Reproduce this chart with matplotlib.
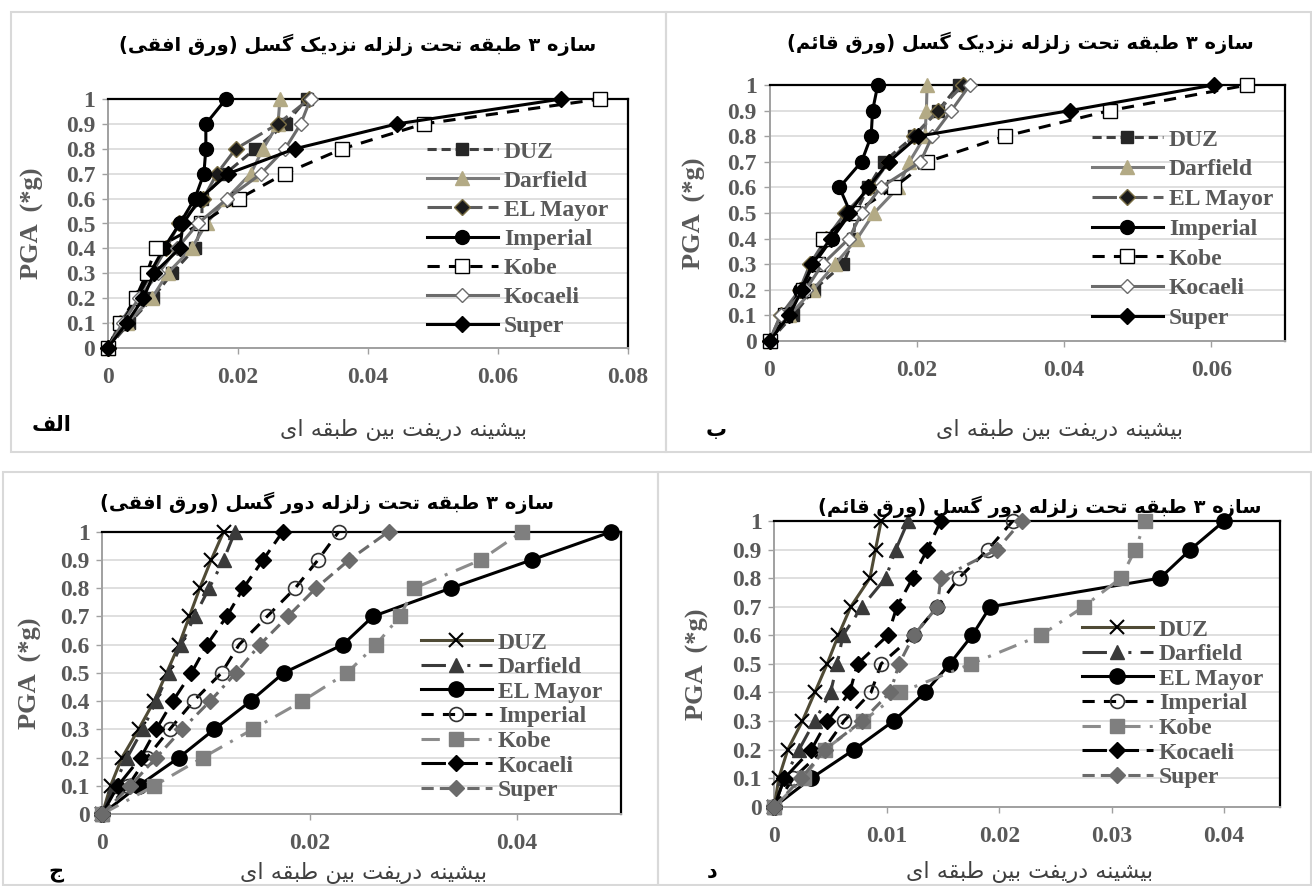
import matplotlib
matplotlib.use('Agg')
import matplotlib.pyplot as plt
from matplotlib.patches import Rectangle
from matplotlib.ticker import FuncFormatter

W, H = 1312, 886

pga = [0, 0.1, 0.2, 0.3, 0.4, 0.5, 0.6, 0.7, 0.8, 0.9, 1.0]
records = ['DUZ', 'Darfield', 'EL Mayor', 'Imperial', 'Kobe', 'Kocaeli', 'Super']

# max inter-storey drift, one row per record (same order as `records`)
near_horiz = [
    [0, 0.0033, 0.0069, 0.0099, 0.0134, 0.0145, 0.0145, 0.0181, 0.0227, 0.0274, 0.0306],
    [0, 0.0029, 0.0068, 0.0092, 0.0129, 0.0152, 0.0183, 0.0220, 0.0239, 0.0262, 0.0265],
    [0, 0.0019, 0.0045, 0.0068, 0.0090, 0.0110, 0.0147, 0.0168, 0.0197, 0.0262, 0.0310],
    [0, 0.0022, 0.0045, 0.0065, 0.0086, 0.0111, 0.0134, 0.0148, 0.0151, 0.0151, 0.0182],
    [0, 0.0019, 0.0043, 0.0060, 0.0074, 0.0144, 0.0202, 0.0272, 0.0361, 0.0486, 0.0758],
    [0, 0.0023, 0.0048, 0.0078, 0.0107, 0.0139, 0.0184, 0.0236, 0.0273, 0.0297, 0.0312],
    [0, 0.0029, 0.0055, 0.0071, 0.0111, 0.0116, 0.0142, 0.0185, 0.0288, 0.0445, 0.0698],
]
near_vert = [
    [0, 0.0032, 0.0060, 0.0100, 0.0114, 0.0117, 0.0134, 0.0155, 0.0196, 0.0229, 0.0257],
    [0, 0.0027, 0.0059, 0.0089, 0.0119, 0.0142, 0.0175, 0.0190, 0.0211, 0.0213, 0.0214],
    [0, 0.0015, 0.0041, 0.0055, 0.0077, 0.0103, 0.0137, 0.0162, 0.0196, 0.0229, 0.0263],
    [0, 0.0023, 0.0042, 0.0060, 0.0085, 0.0110, 0.0095, 0.0125, 0.0138, 0.0140, 0.0147],
    [0, 0.0021, 0.0046, 0.0066, 0.0072, 0.0114, 0.0169, 0.0214, 0.0320, 0.0462, 0.0649],
    [0, 0.0015, 0.0049, 0.0072, 0.0108, 0.0125, 0.0151, 0.0205, 0.0221, 0.0247, 0.0272],
    [0, 0.0027, 0.0044, 0.0058, 0.0083, 0.0108, 0.0134, 0.0162, 0.0202, 0.0408, 0.0603],
]
far_horiz = [
    [0, 0.0008, 0.0019, 0.0035, 0.0050, 0.0062, 0.0074, 0.0084, 0.0094, 0.0105, 0.0117],
    [0, 0.0011, 0.0024, 0.0039, 0.0052, 0.0064, 0.0076, 0.0089, 0.0103, 0.0117, 0.0128],
    [0, 0.0035, 0.0074, 0.0108, 0.0143, 0.0175, 0.0232, 0.0261, 0.0336, 0.0414, 0.0491],
    [0, 0.0025, 0.0043, 0.0065, 0.0088, 0.0115, 0.0132, 0.0159, 0.0186, 0.0208, 0.0228],
    [0, 0.0050, 0.0097, 0.0145, 0.0193, 0.0236, 0.0264, 0.0287, 0.0301, 0.0365, 0.0405],
    [0, 0.0015, 0.0037, 0.0052, 0.0068, 0.0086, 0.0101, 0.0120, 0.0136, 0.0155, 0.0174],
    [0, 0.0027, 0.0052, 0.0077, 0.0104, 0.0129, 0.0152, 0.0179, 0.0206, 0.0238, 0.0276],
]
far_vert = [
    [0, 0.0004, 0.0012, 0.0025, 0.0036, 0.0047, 0.0057, 0.0068, 0.0085, 0.0090, 0.0095],
    [0, 0.0009, 0.0022, 0.0036, 0.0050, 0.0056, 0.0061, 0.0078, 0.0099, 0.0108, 0.0119],
    [0, 0.0033, 0.0071, 0.0106, 0.0134, 0.0156, 0.0176, 0.0192, 0.0343, 0.0370, 0.0400],
    [0, 0.0017, 0.0044, 0.0062, 0.0086, 0.0095, 0.0124, 0.0145, 0.0164, 0.0190, 0.0212],
    [0, 0.0026, 0.0045, 0.0079, 0.0112, 0.0175, 0.0237, 0.0275, 0.0308, 0.0321, 0.0330],
    [0, 0.0009, 0.0033, 0.0047, 0.0067, 0.0074, 0.0101, 0.0109, 0.0123, 0.0136, 0.0148],
    [0, 0.0024, 0.0045, 0.0078, 0.0103, 0.0111, 0.0124, 0.0145, 0.0148, 0.0198, 0.0220],
]

title_a = 'سازه ۳ طبقه تحت زلزله نزدیک گسل (ورق افقی)'
title_b = 'سازه ۳ طبقه تحت زلزله نزدیک گسل (ورق قائم)'
title_c = 'سازه ۳ طبقه تحت زلزله دور گسل (ورق افقی)'
title_d = 'سازه ۳ طبقه تحت زلزله دور گسل (ورق قائم)'
xlabel_fa = 'بیشینه دریفت بین طبقه ای'
ylabel_txt = 'PGA  (*g)'
panel_tags = ['الف', 'ب', 'ج', 'د']

# --- tiny arabic shaper: matplotlib 3.10 has no RTL / joining support
FORMS = {
    'ا': ('\uFE8D', '\uFE8E', None, None),
    'ب': ('\uFE8F', '\uFE90', '\uFE91', '\uFE92'),
    'ت': ('\uFE95', '\uFE96', '\uFE97', '\uFE98'),
    'ج': ('\uFE9D', '\uFE9E', '\uFE9F', '\uFEA0'),
    'ح': ('\uFEA1', '\uFEA2', '\uFEA3', '\uFEA4'),
    'د': ('\uFEA9', '\uFEAA', None, None),
    'ر': ('\uFEAD', '\uFEAE', None, None),
    'ز': ('\uFEAF', '\uFEB0', None, None),
    'س': ('\uFEB1', '\uFEB2', '\uFEB3', '\uFEB4'),
    'ش': ('\uFEB5', '\uFEB6', '\uFEB7', '\uFEB8'),
    'ط': ('\uFEC1', '\uFEC2', '\uFEC3', '\uFEC4'),
    'ف': ('\uFED1', '\uFED2', '\uFED3', '\uFED4'),
    'ق': ('\uFED5', '\uFED6', '\uFED7', '\uFED8'),
    'ل': ('\uFEDD', '\uFEDE', '\uFEDF', '\uFEE0'),
    'م': ('\uFEE1', '\uFEE2', '\uFEE3', '\uFEE4'),
    'ن': ('\uFEE5', '\uFEE6', '\uFEE7', '\uFEE8'),
    'ه': ('\uFEE9', '\uFEEA', '\uFEEB', '\uFEEC'),
    'و': ('\uFEED', '\uFEEE', None, None),
    'ئ': ('\uFE89', '\uFE8A', '\uFE8B', '\uFE8C'),
    'ی': ('\uFBFC', '\uFBFD', '\uFBFE', '\uFBFF'),
    'ک': ('\uFB8E', '\uFB8F', '\uFB90', '\uFB91'),
    'گ': ('\uFB92', '\uFB93', '\uFB94', '\uFB95'),
}
RIGHT_ONLY = set('اآأإدذرزژوؤ')


def shape(text):
    out = []
    n = len(text)
    for i, c in enumerate(text):
        if c not in FORMS:
            out.append(c)
            continue
        prev = text[i - 1] if i > 0 else ''
        nxt = text[i + 1] if i < n - 1 else ''
        jp = prev in FORMS and prev not in RIGHT_ONLY
        jn = nxt in FORMS and c not in RIGHT_ONLY
        iso, fin, ini, med = FORMS[c]
        if jp and jn:
            out.append(med)
        elif jp:
            out.append(fin)
        elif jn:
            out.append(ini)
        else:
            out.append(iso)
    vis = ''.join(out)[::-1]
    return vis.translate(str.maketrans('()', ')('))


# styles for the near-fault (top) and far-fault (bottom) charts
style_near = {
    'DUZ': dict(color='#404040', ls=(0, (3, 1.6)), marker='s', mfc='#262626', mec='#262626', ms=9),
    'Darfield': dict(color='#7a7a7a', ls='-', marker='^', mfc='#b3aa85', mec='#b3aa85', ms=10),
    'EL Mayor': dict(color='#5e5e5e', ls=(0, (8, 2)), marker='D', mfc='#1a1a1a', mec='#7a6e45', ms=8),
    'Imperial': dict(color='black', ls='-', marker='o', mfc='black', mec='black', ms=10),
    'Kobe': dict(color='black', ls=(0, (4, 3)), marker='s', mfc='white', mec='black', ms=10),
    'Kocaeli': dict(color='#6b6b6b', ls='-', marker='D', mfc='white', mec='#6b6b6b', ms=7),
    'Super': dict(color='black', ls='-', marker='D', mfc='black', mec='black', ms=8),
}
style_far = {
    'DUZ': dict(color='#4f4a35', ls='-', marker='x', mfc='black', mec='black', ms=10, mew=1.5),
    'Darfield': dict(color='#3a3a3a', ls=(0, (8, 3, 1, 3, 1, 3)), marker='^', mfc='#3a3a3a', mec='#3a3a3a', ms=10),
    'EL Mayor': dict(color='black', ls='-', marker='o', mfc='black', mec='black', ms=11),
    'Imperial': dict(color='black', ls=(0, (4, 3)), marker='o', mfc='none', mec='#333333', ms=10, mew=1.2),
    'Kobe': dict(color='#8c8c8c', ls=(0, (6, 3, 1, 3)), marker='s', mfc='#7f7f7f', mec='#7f7f7f', ms=10),
    'Kocaeli': dict(color='black', ls=(0, (8, 2.5)), marker='D', mfc='black', mec='black', ms=8),
    'Super': dict(color='#6b6b6b', ls=(0, (4, 2, 4, 2, 1, 2)), marker='D', mfc='#6b6b6b', mec='#6b6b6b', ms=8),
}

GRAY = '#595959'
SERIF = ['Liberation Serif', 'DejaVu Serif']
ARAB = ['DejaVu Sans']


def fx(px):
    return px / W


def fy(py):
    return 1 - py / H


fig = plt.figure(figsize=(W / 100, H / 100), dpi=100)

# panel frames
for (x0, y0, x1, y1) in [(11, 12, 666, 452), (666, 12, 1311, 452),
                         (3, 472, 658, 885), (658, 472, 1311, 885)]:
    fig.patches.append(Rectangle((fx(x0), fy(y1)), (x1 - x0) / W, (y1 - y0) / H,
                                 transform=fig.transFigure, fill=False,
                                 ec='#d9d9d9', lw=1.5))

panels = [
    # data, styles, axes px box, xmax, xstep, title, title pos, xlabel pos, tag pos, ylabel x, legend (x, y), spacing
    (near_horiz, style_near, (107.7, 99, 627.7, 348), 0.08, 0.02, title_a, (358, 45), (403, 430), (52, 425), 32, (427, 141), 0.32),
    (near_vert, style_near, (769.5, 85, 1285, 341), 0.07, 0.02, title_b, (1020, 43), (1059, 430), (716, 430), 694, (1092, 129), 0.35),
    (far_horiz, style_far, (102.3, 531.7, 620.8, 814), 0.05, 0.02, title_c, (327, 503), (363, 873), (56, 873), 30, (421, 632), 0.13),
    (far_vert, style_far, (774.3, 521, 1280.4, 806.7), 0.045, 0.01, title_d, (1040, 507), (1030, 872), (712, 872), 697, (1082, 619), 0.13),
]
FS = 17

for i, (data, styles, box, xmax, xstep, title, tpos, xlpos, tagpos, ylx, legpos, lsp) in enumerate(panels):
    x0, y0, x1, y1 = box
    ax = fig.add_axes([fx(x0), fy(y1), (x1 - x0) / W, (y1 - y0) / H])
    for name, drift in zip(records, data):
        st = dict(styles[name])
        ax.plot(drift, pga, label=name, lw=2.2, clip_on=False, zorder=3,
                color=st.pop('color'), ls=st.pop('ls'), marker=st.pop('marker'),
                mfc=st.pop('mfc'), mec=st.pop('mec'), ms=st.pop('ms'),
                mew=st.pop('mew', 1.0))
    ax.set_xlim(0, xmax)
    ax.set_ylim(0, 1)
    xt = [k * xstep for k in range(int(round(xmax / xstep)) + 1) if k * xstep <= xmax + 1e-9]
    ax.set_xticks(xt)
    ax.set_yticks(pga)
    fmt = FuncFormatter(lambda v, p: '%g' % round(v, 4))
    ax.xaxis.set_major_formatter(fmt)
    ax.yaxis.set_major_formatter(fmt)
    ax.grid(axis='y', color='#d9d9d9', lw=1.2, zorder=0)
    ax.set_axisbelow(True)
    for s in ['top', 'right']:
        ax.spines[s].set_color('black')
        ax.spines[s].set_linewidth(1.6)
    for s in ['left', 'bottom']:
        ax.spines[s].set_color('#a0a0a0')
        ax.spines[s].set_linewidth(1.4)
    ax.tick_params(axis='both', direction='out', length=4, width=1, color='#a0a0a0',
                   labelcolor=GRAY, labelsize=FS)
    ax.tick_params(axis='x', pad=10)
    ax.tick_params(axis='y', pad=5)
    for lab in ax.get_xticklabels() + ax.get_yticklabels():
        lab.set_fontfamily(SERIF)
        lab.set_fontweight('bold')

    leg = ax.legend(loc='upper left', bbox_to_anchor=(fx(legpos[0]), fy(legpos[1])),
                    bbox_transform=fig.transFigure, frameon=False, borderpad=0,
                    borderaxespad=0, handlelength=3.0, handletextpad=0.25,
                    labelspacing=lsp, numpoints=1,
                    prop=dict(family=SERIF, weight='bold', size=FS))
    for t in leg.get_texts():
        t.set_color(GRAY)

    fig.text(fx(tpos[0]), fy(tpos[1]), shape(title), ha='center', va='center',
             family=ARAB, weight='bold', fontsize=14, color='black')
    fig.text(fx(xlpos[0]), fy(xlpos[1]), shape(xlabel_fa), ha='center', va='center',
             family=ARAB, fontsize=16, color='#404040')
    fig.text(fx(tagpos[0]), fy(tagpos[1]), shape(panel_tags[i]), ha='center', va='center',
             family=ARAB, weight='bold', fontsize=15, color='black')
    fig.text(fx(ylx), fy((y0 + y1) / 2), ylabel_txt, rotation=90, ha='center', va='center',
             family=SERIF, weight='bold', fontsize=19, color=GRAY)

fig.savefig('out.png', dpi=100)
